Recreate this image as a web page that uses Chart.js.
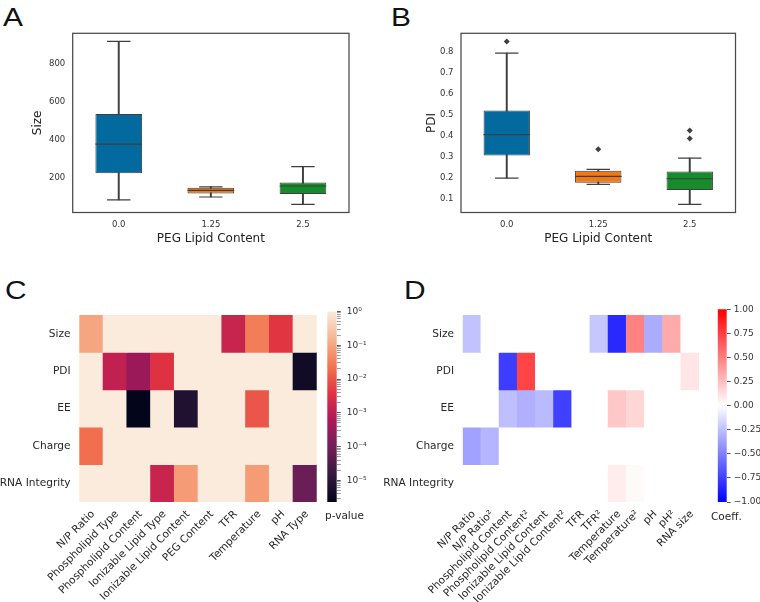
<!DOCTYPE html>
<html>
<head>
<meta charset="utf-8">
<script src="https://cdn.jsdelivr.net/npm/chart.js@4.4.1/dist/chart.umd.min.js"></script>
<style>
  body { margin: 0; background: #fff; }
  #fig { position: relative; width: 760px; height: 602px; overflow: hidden; font-family: 'DejaVu Sans', sans-serif; }
  #fig canvas { position: absolute; }
  .panel { position: absolute; font-family: 'Liberation Sans', sans-serif; font-size: 26px; line-height: 26px;
           color: #111; transform: scaleX(1.15); transform-origin: left top; }
  .cblabel { position: absolute; font-size: 10.5px; line-height: 12px; color: #262626; white-space: nowrap; }
</style>
</head>
<body>
<div id="fig">
  <div class="panel" style="left:3px;top:4px">A</div>
  <div class="panel" style="left:391px;top:4px">B</div>
  <div class="panel" style="left:5px;top:277px">C</div>
  <div class="panel" style="left:404px;top:277px">D</div>

  <canvas id="box-size" width="380" height="300" style="left:0;top:0"></canvas>
  <canvas id="box-pdi" width="380" height="300" style="left:380px;top:0"></canvas>
  <canvas id="heat-p" width="320" height="302" style="left:0;top:300px"></canvas>
  <canvas id="cbar-p" width="60" height="302" style="left:320px;top:300px"></canvas>
  <canvas id="heat-coef" width="325" height="302" style="left:380px;top:300px"></canvas>
  <canvas id="cbar-coef" width="55" height="302" style="left:705px;top:300px"></canvas>

  <div class="cblabel" style="left:325px;top:509px">p-value</div>
  <div class="cblabel" style="left:711px;top:510px">Coeff.</div>
</div>

<script>
// ---- Data: box plots (A = Size, B = PDI) by PEG lipid content ----
const PEG_LEVELS = ['0.0', '1.25', '2.5'];

const SIZE_WHISKER_LOW = [81, 96, 57];
const SIZE_Q1 = [221, 115, 112];
const SIZE_MEDIAN = [376, 131, 154];
const SIZE_Q3 = [535, 145, 173];
const SIZE_WHISKER_HIGH = [919, 150, 257];
const SIZE_OUTLIERS = [[], [], []];
const SIZE_TICKS = [200, 400, 600, 800];

const PDI_WHISKER_LOW = [0.198, 0.168, 0.073];
const PDI_Q1 = [0.306, 0.176, 0.141];
const PDI_MEDIAN = [0.405, 0.206, 0.195];
const PDI_Q3 = [0.520, 0.233, 0.230];
const PDI_WHISKER_HIGH = [0.793, 0.240, 0.293];
const PDI_OUTLIERS = [[0.849], [0.336], [0.425, 0.387]];
const PDI_TICKS = [0.1, 0.2, 0.3, 0.4, 0.5, 0.6, 0.7, 0.8];

// ---- Data: C, p-values ----
const C_ROWS = ['Size', 'PDI', 'EE', 'Charge', 'RNA Integrity'];
const C_COLS = ['N/P Ratio', 'Phospholipid Type', 'Phospholipid Content', 'Ionizable Lipid Type',
  'Ionizable Lipid Content', 'PEG Content', 'TFR', 'Temperature', 'pH', 'RNA Type'];
const P_SIZE   = [0.1, 1, 1, 1, 1, 1, 1.5e-3, 0.03, 4e-3, 1];
const P_PDI    = [1, 1.2e-3, 3.5e-4, 3.5e-3, 1, 1, 1, 1, 1, 4e-6];
const P_EE     = [1, 1, 2.3e-6, 1, 7e-6, 1, 1, 0.01, 1, 1];
const P_CHARGE = [0.02, 1, 1, 1, 1, 1, 1, 1, 1, 1];
const P_RNA    = [1, 1, 1, 1.5e-3, 0.075, 1, 1, 0.075, 1, 8e-5];

// ---- Data: D, regression coefficients ----
const D_ROWS = ['Size', 'PDI', 'EE', 'Charge', 'RNA Integrity'];
const D_COLS = ['N/P Ratio', 'N/P Ratio²', 'Phospholipid Content', 'Phospholipid Content²',
  'Ionizable Lipid Content', 'Ionizable Lipid Content²', 'TFR', 'TFR²', 'Temperature',
  'Temperature²', 'pH', 'pH²', 'RNA size'];
const COEF_SIZE   = [-0.24, 0, 0, 0, 0, 0, 0, -0.22, -0.84, 0.49, -0.33, 0.33, 0];
const COEF_PDI    = [0, 0, -0.76, 0.73, 0, 0, 0, 0, 0, 0, 0, 0, 0.10];
const COEF_EE     = [0, 0, -0.25, -0.31, -0.27, -0.75, 0, 0, 0.22, 0.16, 0, 0, 0];
const COEF_CHARGE = [-0.37, -0.29, 0, 0, 0, 0, 0, 0, 0, 0, 0, 0, 0];
const COEF_RNA    = [0, 0, 0, 0, 0, 0, 0, 0, 0.07, 0.02, 0, 0, 0];
const COEF_TICKS = [-1, -0.75, -0.5, -0.25, 0, 0.25, 0.5, 0.75, 1];

// ---- Styling ----
const BOX_COLORS = ['#036a9f', '#f27816', '#168c2a'];
const EDGE = '#3f3f3f';
const ROCKET = [[0, '#03051a'], [1 / 7, '#35193e'], [2 / 7, '#701f57'], [3 / 7, '#ad1759'],
  [4 / 7, '#e13342'], [5 / 7, '#f37651'], [6 / 7, '#f6b48f'], [1, '#faebdd']];
const BWR = [[0, '#0000ff'], [0.5, '#ffffff'], [1, '#ff0000']];

Chart.defaults.font.family = "'DejaVu Sans', sans-serif";
Chart.defaults.animation = false;
Chart.defaults.events = [];
Chart.defaults.plugins.legend.display = false;
Chart.defaults.plugins.tooltip.enabled = false;

function hexRgb(h) {
  return [1, 3, 5].map(i => parseInt(h.slice(i, i + 2), 16));
}

function sampleMap(stops, t) {
  t = Math.max(0, Math.min(1, t));
  for (let i = 1; i < stops.length; i++) {
    if (t <= stops[i][0]) {
      const [t0, c0] = stops[i - 1];
      const [t1, c1] = stops[i];
      const f = (t - t0) / (t1 - t0);
      const a = hexRgb(c0), b = hexRgb(c1);
      const c = a.map((v, k) => Math.round(v + (b[k] - v) * f));
      return `rgb(${c[0]},${c[1]},${c[2]})`;
    }
  }
  return stops[stops.length - 1][1];
}

function gradientFill(stops) {
  return (ctx) => {
    const area = ctx.chart.chartArea;
    if (!area) return stops[0][1];
    const g = ctx.chart.ctx.createLinearGradient(0, area.bottom, 0, area.top);
    stops.forEach(([t, c]) => g.addColorStop(t, c));
    return g;
  };
}

const framePlugin = {
  id: 'frame',
  afterDatasetsDraw(chart) {
    const { ctx, chartArea: a } = chart;
    ctx.save();
    ctx.strokeStyle = '#4a4a4a';
    ctx.lineWidth = 1.25;
    ctx.strokeRect(a.left, a.top, a.right - a.left, a.bottom - a.top);
    ctx.restore();
  }
};

// --- Box plot built from floating bars + point markers ---
function boxChart(id, s) {
  const outliers = [];
  s.outliers.forEach((list, i) => list.forEach(y => outliers.push({ x: PEG_LEVELS[i], y })));
  const all = s.lo.concat(s.hi, outliers.map(o => o.y));
  const lo = Math.min(...all), hi = Math.max(...all);
  const pad = (hi - lo) * 0.05;
  const marker = (data, r) => ({
    type: 'line', data, showLine: false, pointStyle: 'line', pointRadius: r,
    pointBorderColor: EDGE, pointBorderWidth: 1.2, order: 1
  });

  return new Chart(document.getElementById(id), {
    type: 'bar',
    data: {
      labels: PEG_LEVELS,
      datasets: [
        { data: s.lo.map((v, i) => [v, s.hi[i]]), backgroundColor: EDGE, barThickness: 1.3, grouped: false, order: 3 },
        {
          data: s.q1.map((v, i) => [v, s.q3[i]]), backgroundColor: BOX_COLORS, borderColor: EDGE,
          borderWidth: 1, borderSkipped: false, barPercentage: 0.507, categoryPercentage: 1,
          grouped: false, order: 2
        },
        marker(s.med, 23.3),
        marker(s.lo, 11.7),
        marker(s.hi, 11.7),
        {
          type: 'line', data: outliers, showLine: false, pointStyle: 'rectRot', pointRadius: 3,
          pointBackgroundColor: EDGE, pointBorderWidth: 0, order: 0
        }
      ]
    },
    options: {
      responsive: false,
      devicePixelRatio: 1,
      layout: { padding: { left: 0, top: 33.3, right: s.padRight, bottom: 0 } },
      scales: {
        x: {
          grid: { display: false, drawTicks: false }, border: { display: false },
          ticks: { font: { size: 8.5 }, color: '#333', padding: 7 },
          title: { display: true, text: 'PEG Lipid Content', color: '#222', font: { size: 12 }, padding: { top: 0, bottom: 53.5 } },
          afterFit: sc => { sc.height = 87.5; }
        },
        y: {
          min: lo - pad, max: hi + pad,
          grid: { display: false, drawTicks: false }, border: { display: false },
          afterBuildTicks: sc => { sc.ticks = s.ticks.map(v => ({ value: v })); },
          ticks: { font: { size: 8.5 }, color: '#333', padding: 7.5, callback: s.fmt },
          title: { display: true, text: s.title, color: '#222', font: { size: 12 }, padding: { top: s.titlePad, bottom: 0 } },
          afterFit: sc => { sc.width = s.axisWidth; }
        }
      }
    },
    plugins: [framePlugin]
  });
}

// --- Heatmap: one floating-bar dataset per row ---
function heatChart(id, rows, cols, values, colorOf, cfg) {
  return new Chart(document.getElementById(id), {
    type: 'bar',
    data: {
      labels: cols,
      datasets: values.map((row, r) => ({
        data: row.map(() => [r, r + 1]),
        backgroundColor: row.map(colorOf),
        borderWidth: 0, barPercentage: 1, categoryPercentage: 1, grouped: false
      }))
    },
    options: {
      responsive: false,
      devicePixelRatio: 1,
      layout: { padding: { left: 0, top: 9.3, right: cfg.padRight, bottom: 0 } },
      scales: {
        x: {
          grid: { display: false, drawTicks: false }, border: { display: false },
          ticks: { autoSkip: false, minRotation: 45, maxRotation: 45, labelOffset: 2, font: { size: 10.6 }, color: '#262626', padding: 6 },
          afterFit: sc => { sc.height = 100; }
        },
        y: {
          min: 0, max: rows.length, reverse: true,
          grid: { display: false, drawTicks: false }, border: { display: false },
          afterBuildTicks: sc => { sc.ticks = rows.map((_, r) => ({ value: r + 0.5 })); },
          ticks: { autoSkip: false, font: { size: 10.6 }, color: '#262626', padding: 8.7, callback: v => rows[Math.floor(v)] },
          afterFit: sc => { sc.width = cfg.axisWidth; }
        }
      }
    }
  });
}

// --- Colour bar: a single floating bar with a gradient fill ---
function colorBar(id, cfg) {
  return new Chart(document.getElementById(id), {
    type: 'bar',
    data: {
      labels: [''],
      datasets: [{
        data: [[cfg.min, cfg.max]], backgroundColor: gradientFill(cfg.stops),
        borderWidth: 0, barPercentage: 1, categoryPercentage: 1
      }]
    },
    options: {
      responsive: false,
      devicePixelRatio: 1,
      layout: { padding: { left: cfg.left, top: 9.3, right: 0, bottom: 100 } },
      scales: {
        x: { display: false },
        y: {
          type: cfg.type, position: 'right', min: cfg.min, max: cfg.max,
          grid: { drawOnChartArea: false, drawTicks: true, tickLength: 4, tickColor: '#555', tickWidth: c => (c.tick && c.tick.major === false ? 0.6 : 1) },
          border: { display: false },
          afterBuildTicks: sc => { sc.ticks = cfg.ticks(); },
          ticks: { autoSkip: false, font: { size: 9 }, color: '#333', padding: cfg.padding, callback: cfg.fmt },
          afterFit: sc => { sc.width = cfg.axisWidth; }
        }
      }
    }
  });
}

// ---- Panel A ----
boxChart('box-size', {
  lo: SIZE_WHISKER_LOW, q1: SIZE_Q1, med: SIZE_MEDIAN, q3: SIZE_Q3, hi: SIZE_WHISKER_HIGH,
  outliers: SIZE_OUTLIERS, ticks: SIZE_TICKS, fmt: v => String(v),
  title: 'Size', titlePad: 30.8, axisWidth: 72.7, padRight: 31
});

// ---- Panel B ----
boxChart('box-pdi', {
  lo: PDI_WHISKER_LOW, q1: PDI_Q1, med: PDI_MEDIAN, q3: PDI_Q3, hi: PDI_WHISKER_HIGH,
  outliers: PDI_OUTLIERS, ticks: PDI_TICKS, fmt: v => v.toFixed(1),
  title: 'PDI', titlePad: 44.5, axisWidth: 81, padRight: 23
});

// ---- Panel C ----
const P_VALUES = [P_SIZE, P_PDI, P_EE, P_CHARGE, P_RNA];
const P_MIN = Math.min(...P_VALUES.flat());
const P_MAX = 1;
const logSpan = Math.log10(P_MAX) - Math.log10(P_MIN);
const rocketOf = p => sampleMap(ROCKET, (Math.log10(p) - Math.log10(P_MIN)) / logSpan);

heatChart('heat-p', C_ROWS, C_COLS, P_VALUES, rocketOf, { axisWidth: 79.3, padRight: 2.7 });

const SUP = { '-': '⁻', '0': '⁰', '1': '¹', '2': '²', '3': '³', '4': '⁴', '5': '⁵', '6': '⁶', '7': '⁷', '8': '⁸', '9': '⁹' };
colorBar('cbar-p', {
  type: 'logarithmic', min: P_MIN, max: P_MAX, stops: ROCKET, left: 7.3, axisWidth: 43.3, padding: 6,
  ticks: () => {
    const out = [];
    for (let e = Math.floor(Math.log10(P_MIN)); e <= 0; e++) {
      for (let m = 1; m <= 9; m++) {
        const v = m * Math.pow(10, e);
        if (v >= P_MIN && v <= P_MAX * 1.0001) out.push({ value: v, major: m === 1 });
      }
    }
    return out;
  },
  fmt: (v, i, ticks) => {
    if (!ticks[i].major) return '';
    const e = Math.round(Math.log10(v));
    return '10' + String(e).split('').map(ch => SUP[ch]).join('');
  }
});

// ---- Panel D ----
const COEF_VALUES = [COEF_SIZE, COEF_PDI, COEF_EE, COEF_CHARGE, COEF_RNA];
const bwrOf = v => sampleMap(BWR, (v + 1) / 2);

heatChart('heat-coef', D_ROWS, D_COLS, COEF_VALUES, bwrOf, { axisWidth: 82.7, padRight: 3.3 });

colorBar('cbar-coef', {
  type: 'linear', min: -1, max: 1, stops: BWR, left: 12.7, axisWidth: 33.3, padding: 3,
  ticks: () => COEF_TICKS.map(v => ({ value: v })),
  fmt: v => (v < 0 ? '−' : '') + Math.abs(v).toFixed(2)
});
</script>
</body>
</html>
